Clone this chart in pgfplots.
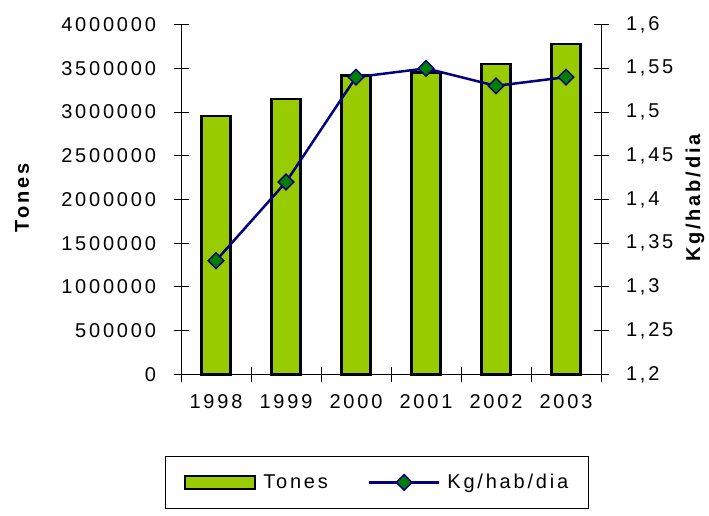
\documentclass[border=0pt]{standalone}
\usepackage{fontspec}
\setmainfont[LetterSpace=14]{Liberation Sans}
\usepackage{pgfplots}
\pgfplotsset{compat=1.18}
\definecolor{barg}{HTML}{99CC00}
\definecolor{navyl}{HTML}{000080}
\definecolor{mkg}{HTML}{008000}
\pgfplotsset{mylineleg/.style={legend image code/.code={\draw[mark repeat=2,mark phase=2,##1] plot coordinates {(0pt,0pt) (35pt,0pt) (70pt,0pt)};}}}
\pgfplotsset{mybarleg/.style={legend image code/.code={\draw[fill=barg, draw=black, line width=2.5pt] (0pt,-6.5pt) rectangle (70pt,6.5pt);}}}
\begin{document}
\begin{tikzpicture}[font=\fontsize{20}{24}\selectfont]
\path[use as bounding box] (0,0) rectangle (709pt,516pt);
\begin{axis}[
  at={(181pt,141.7pt)}, anchor=south west,
  scale only axis, width=420pt, height=349.6pt,
  xmin=-0.5, xmax=5.5, ymin=0, ymax=4000000,
  scaled y ticks=false,
  axis x line*=bottom, axis y line*=left,
  axis line style={black, line width=0.8pt},
  tick align=center, major tick length=15pt,
  tick style={black, line width=0.8pt},
  xtick={-0.5,0.5,1.5,2.5,3.5,4.5,5.5}, xticklabels={},
  extra x ticks={0,1,2,3,4,5},
  extra x tick labels={1998,1999,2000,2001,2002,2003},
  extra x tick style={tick style={draw=none}, xticklabel style={yshift=-9pt}},
  ytick={0,500000,1000000,1500000,2000000,2500000,3000000,3500000,4000000},
  yticklabels={0,500000,1000000,1500000,2000000,2500000,3000000,3500000,4000000},
  yticklabel style={xshift=-14pt},
  ylabel={\bfseries Tones},
  every axis y label/.style={at={(axis description cs:-0.3786,0.504)}, rotate=90, anchor=center},
  clip=false,
]
\addplot[ybar, bar width=29pt, fill=barg, draw=black, line width=2.5pt]
  coordinates {(0,2955000) (1,3150000) (2,3421000) (3,3455000) (4,3550000) (5,3780000)};
\end{axis}
\begin{axis}[
  at={(181pt,141.7pt)}, anchor=south west,
  scale only axis, width=420pt, height=349.6pt,
  xmin=-0.5, xmax=5.5, ymin=1.2, ymax=1.6,
  axis y line*=right, axis x line=none,
  axis line style={black, line width=0.8pt},
  tick align=center, major tick length=15pt,
  tick style={black, line width=0.8pt},
  ytick={1.2,1.25,1.3,1.35,1.4,1.45,1.5,1.55,1.6},
  yticklabels={{1,2},{1,25},{1,3},{1,35},{1,4},{1,45},{1,5},{1,55},{1,6}},
  yticklabel style={xshift=14pt},
  ylabel={\bfseries Kg/hab/dia},
  every axis y label/.style={at={(axis description cs:1.2238,0.504)}, rotate=90, anchor=center},
  clip=false,
  legend columns=2,
  legend style={at={(0.4667,-0.2337)}, anchor=north, draw=black, line width=0.8pt,
    inner xsep=18pt, inner ysep=16pt,
    nodes={inner sep=2pt, anchor=west},
    /tikz/every odd column/.append style={column sep=5pt},
    /tikz/every even column/.append style={column sep=38pt}},
]
\addlegendimage{mybarleg}
\addlegendentry{Tones}
\addplot[navyl, line width=2.5pt, mark=square*, mark size=5.5pt,
  mark options={rotate=45, fill=mkg, draw=navyl, line width=1.5pt}, mylineleg]
  coordinates {(0,1.33) (1,1.42) (2,1.54) (3,1.55) (4,1.53) (5,1.54)};
\addlegendentry{Kg/hab/dia}
\end{axis}
\end{tikzpicture}
\end{document}
